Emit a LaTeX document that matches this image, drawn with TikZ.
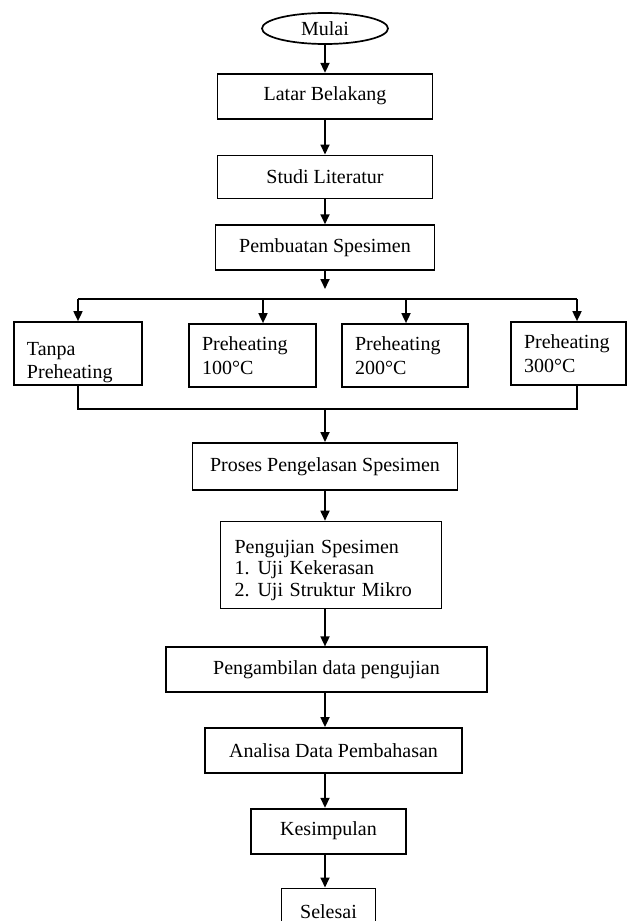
\documentclass[tikz,border=0pt]{standalone}
\usepackage{fontspec}
\setmainfont{Liberation Serif}
\usepackage{tikz}
\usetikzlibrary{arrows.meta, positioning, shapes.geometric}
\tikzset{
  block/.style={rectangle, draw=black, line width=1.7pt, fill=white, inner sep=0pt,
    minimum height=45pt, align=center, font=\fontsize{20}{24}\selectfont},
  sidebox/.style={rectangle, draw=black, line width=1.7pt, fill=white, inner xsep=13pt,
    inner ysep=0pt, text width=#1, minimum height=63pt, align=left,
    font=\fontsize{20}{23.5}\selectfont},
  terminal/.style={ellipse, draw=black, line width=1.7pt, fill=white, inner sep=0pt,
    minimum width=126pt, minimum height=31pt, font=\fontsize{20}{24}\selectfont},
  arrowline/.style={-{Triangle[length=10pt,width=9pt]}, line width=1.7pt},
  joinline/.style={line width=1.7pt}
}

\begin{document}
\begin{tikzpicture}[x=1pt, y=1pt, node distance=30pt]
  \useasboundingbox (0,0) rectangle (628,-921);
  \fill[white] (0,0) rectangle (628,-921);
  \clip (0,0) rectangle (628,-921);

  \node[terminal] (mulai) at (325,-28.5) {Mulai};
  \node[block, minimum width=215pt, below=28pt of mulai] (latar) {Latar Belakang};
  \node[block, minimum width=215pt, minimum height=43pt, below=35pt of latar] (studi) {Studi Literatur};
  \node[block, minimum width=219pt, below=25pt of studi] (pembuatan) {Pembuatan Spesimen};

  % cabang preheating
  \coordinate (split) at (325,-299);
  \coordinate (b1) at (78,-299);
  \coordinate (b2) at (263,-299);
  \coordinate (b3) at (406,-299);
  \coordinate (b4) at (577,-299);
  \node[sidebox=102pt] (tanpa) at (78,-353.5) {\rule{0pt}{31pt}Tanpa\\Preheating};
  \node[sidebox=101pt] (pre100) at (252.5,-355.5) {Preheating\\100°C};
  \node[sidebox=100pt] (pre200) at (405,-355.5) {Preheating\\200°C};
  \node[sidebox=89pt] (pre300) at (568.5,-353.5) {Preheating\\300°C};
  \coordinate (merge) at (325,-409);

  \node[block, minimum width=265pt, minimum height=47pt, below=33pt of merge] (proses) {Proses Pengelasan Spesimen};
  \node[block, align=left, text width=193pt, inner xsep=14pt, minimum height=87pt,
    font=\fontsize{20}{21.5}\selectfont, below=30pt of proses, xshift=6pt] (pengujian)
    {\rule{0pt}{24pt}Pengujian Spesimen\\1.\hspace{8pt}Uji Kekerasan\\2.\hspace{8pt}Uji Struktur Mikro};
  \node[block, minimum width=321pt, below=37pt of pengujian, xshift=-4.5pt] (pengambilan) {Pengambilan data pengujian};
  \node[block, minimum width=257pt, below=34pt of pengambilan, xshift=7pt] (analisa) {Analisa Data Pembahasan};
  \node[block, minimum width=155pt, below=34pt of analisa, xshift=-5pt] (kesimpulan) {Kesimpulan};
  \node[block, minimum width=94pt, minimum height=46pt, below=33pt of kesimpulan] (selesai) {Selesai};

  \draw[arrowline] (mulai) -- (latar);
  \draw[arrowline] (latar) -- (studi);
  \draw[arrowline] (studi) -- (pembuatan);
  \draw[arrowline, shorten >=10pt] (pembuatan) -- (split);
  \draw[joinline] (b1) -- (b4);
  \foreach \b/\n in {b1/tanpa, b2/pre100, b3/pre200, b4/pre300}
    \draw[arrowline] (\b) -- (\b |- \n.north);
  \draw[joinline] (tanpa.south) |- (merge) -| (b4 |- pre300.south);
  \draw[arrowline] (merge) -- (proses);
  \draw[arrowline] (proses.south -| merge) -- (pengujian.north -| merge);
  \draw[arrowline] (pengujian.south -| merge) -- (pengambilan.north -| merge);
  \draw[arrowline] (pengambilan.south -| merge) -- (analisa.north -| merge);
  \draw[arrowline] (analisa.south -| merge) -- (kesimpulan.north -| merge);
  \draw[arrowline] (kesimpulan.south -| merge) -- (selesai.north -| merge);
\end{tikzpicture}
\end{document}
